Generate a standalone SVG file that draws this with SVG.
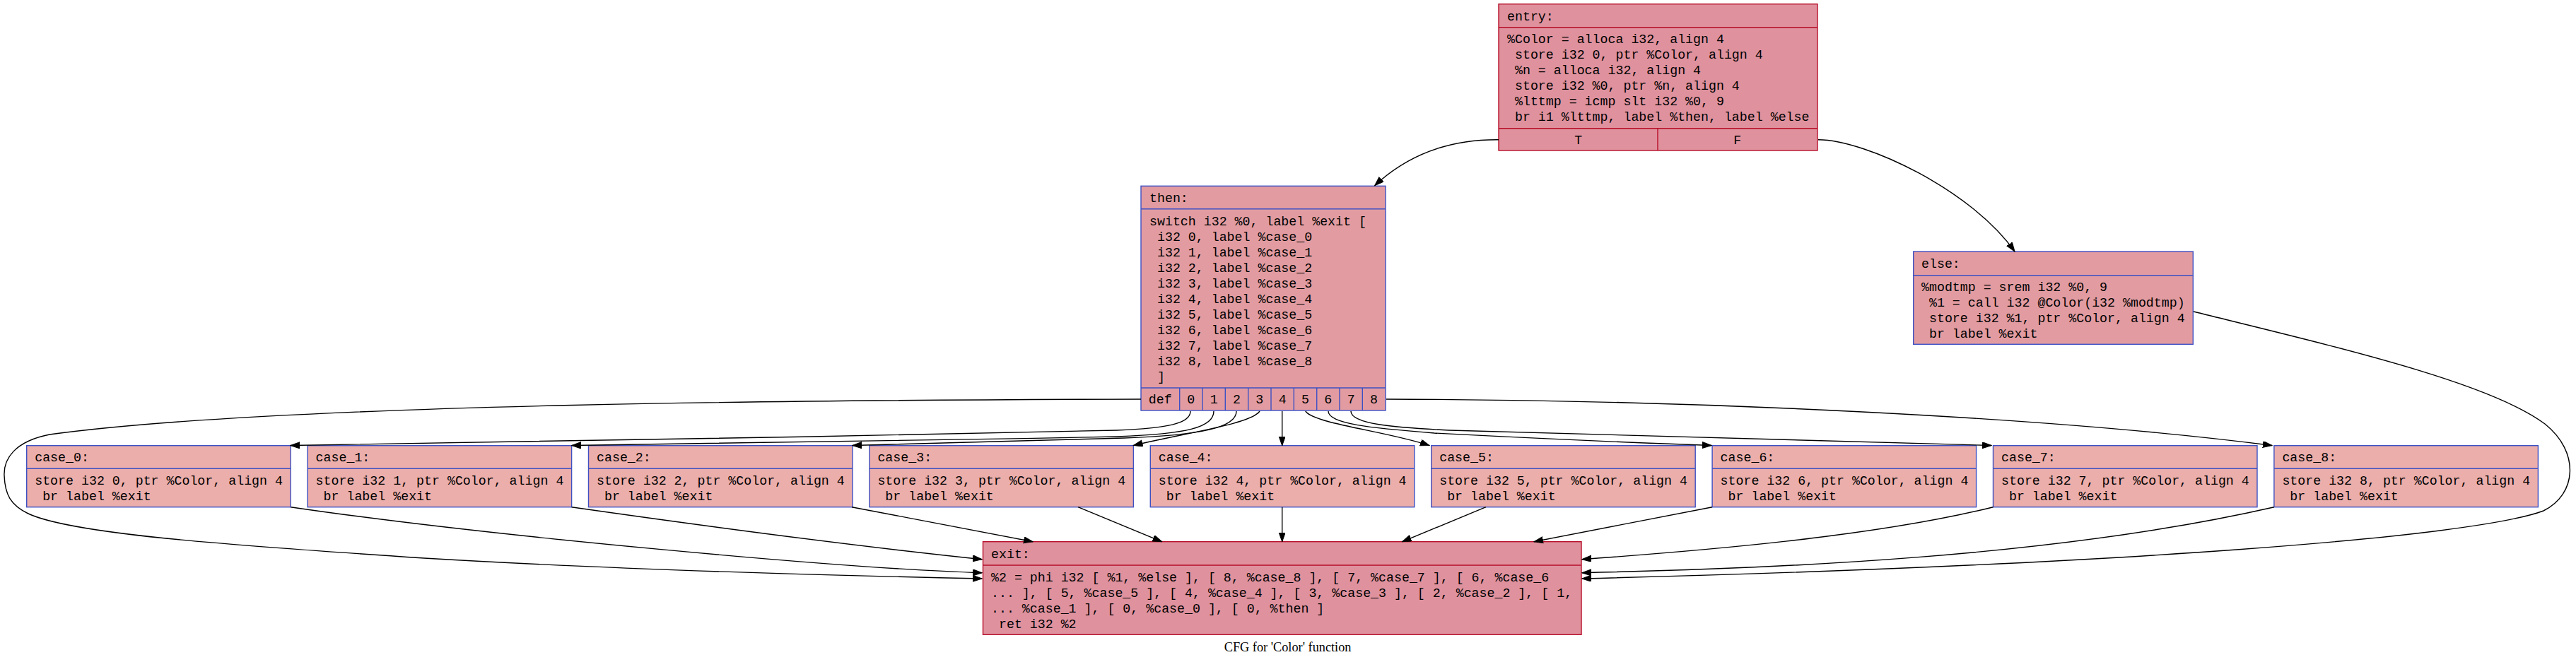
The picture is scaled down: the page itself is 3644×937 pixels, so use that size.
<svg xmlns="http://www.w3.org/2000/svg" width="3644" height="937" viewBox="0 0 3644 937">
<style>
.t{font-family:"Liberation Mono","Courier New",monospace;font-size:18.28px;fill:#000;white-space:pre}
.c{text-anchor:middle}
.hot{fill:#df929e;stroke:#b70d28;stroke-width:1.4}
.mid{fill:#e29ca1;stroke:#3d50c3;stroke-width:1.4}
.cold{fill:#ebaeab;stroke:#3d50c3;stroke-width:1.4}
.lh{stroke:#b70d28;stroke-width:1.4}
.lc{stroke:#3d50c3;stroke-width:1.4}
.e{fill:none;stroke:#000;stroke-width:1.4;marker-end:url(#ah)}
.cap{font-family:"Liberation Serif","Times New Roman",serif;font-size:18.3px;text-anchor:middle}
</style>
<defs>
<marker id="ah" markerUnits="userSpaceOnUse" markerWidth="14" markerHeight="10" refX="13" refY="4.6" orient="auto">
<path d="M0,0 L13,4.6 L0,9.2 z" fill="#000" stroke="#000" stroke-width="1"/>
</marker>
</defs>
<rect width="3644" height="937" fill="#fff"/>

<g id="entry">
<rect class="hot" x="2120" y="5.7" width="451" height="207.3"/>
<line class="lh" x1="2120" y1="38.7" x2="2571" y2="38.7"/>
<line class="lh" x1="2120" y1="181.7" x2="2571" y2="181.7"/>
<line class="lh" x1="2345" y1="181.7" x2="2345" y2="213"/>
<text class="t" x="2132" y="29">entry:</text>
<text class="t" x="2132" y="60.7">%Color = alloca i32, align 4</text>
<text class="t" x="2132" y="82.7"> store i32 0, ptr %Color, align 4</text>
<text class="t" x="2132" y="104.7"> %n = alloca i32, align 4</text>
<text class="t" x="2132" y="126.7"> store i32 %0, ptr %n, align 4</text>
<text class="t" x="2132" y="148.7"> %lttmp = icmp slt i32 %0, 9</text>
<text class="t" x="2132" y="170.7"> br i1 %lttmp, label %then, label %else</text>
<text class="t c" x="2232.7" y="204">T</text>
<text class="t c" x="2457.7" y="204">F</text>
</g>

<g id="then">
<rect class="mid" x="1614" y="263.3" width="346" height="317.7"/>
<line class="lc" x1="1614" y1="295.7" x2="1960" y2="295.7"/>
<line class="lc" x1="1614" y1="549" x2="1960" y2="549"/>
<line class="lc" x1="1668.7" y1="549" x2="1668.7" y2="581"/>
<line class="lc" x1="1701" y1="549" x2="1701" y2="581"/>
<line class="lc" x1="1733.3" y1="549" x2="1733.3" y2="581"/>
<line class="lc" x1="1765.7" y1="549" x2="1765.7" y2="581"/>
<line class="lc" x1="1798" y1="549" x2="1798" y2="581"/>
<line class="lc" x1="1830.3" y1="549" x2="1830.3" y2="581"/>
<line class="lc" x1="1862.7" y1="549" x2="1862.7" y2="581"/>
<line class="lc" x1="1895" y1="549" x2="1895" y2="581"/>
<line class="lc" x1="1927.3" y1="549" x2="1927.3" y2="581"/>
<text class="t" x="1626" y="286">then:</text>
<text class="t" x="1626" y="319">switch i32 %0, label %exit [</text>
<text class="t" x="1626" y="341"> i32 0, label %case_0</text>
<text class="t" x="1626" y="363"> i32 1, label %case_1</text>
<text class="t" x="1626" y="385"> i32 2, label %case_2</text>
<text class="t" x="1626" y="407"> i32 3, label %case_3</text>
<text class="t" x="1626" y="429"> i32 4, label %case_4</text>
<text class="t" x="1626" y="451"> i32 5, label %case_5</text>
<text class="t" x="1626" y="473"> i32 6, label %case_6</text>
<text class="t" x="1626" y="495"> i32 7, label %case_7</text>
<text class="t" x="1626" y="517"> i32 8, label %case_8</text>
<text class="t" x="1626" y="539"> ]</text>
<text class="t c" x="1641.3" y="570.7">def</text>
<text class="t c" x="1684.8" y="570.7">0</text>
<text class="t c" x="1717.2" y="570.7">1</text>
<text class="t c" x="1749.5" y="570.7">2</text>
<text class="t c" x="1781.8" y="570.7">3</text>
<text class="t c" x="1814.2" y="570.7">4</text>
<text class="t c" x="1846.5" y="570.7">5</text>
<text class="t c" x="1878.8" y="570.7">6</text>
<text class="t c" x="1911.2" y="570.7">7</text>
<text class="t c" x="1943.6" y="570.7">8</text>
</g>

<g id="else">
<rect class="mid" x="2706.7" y="356" width="395.6" height="131.3"/>
<line class="lc" x1="2706.7" y1="389.7" x2="3102.3" y2="389.7"/>
<text class="t" x="2718" y="379">else:</text>
<text class="t" x="2718" y="412.3">%modtmp = srem i32 %0, 9</text>
<text class="t" x="2718" y="434.3"> %1 = call i32 @Color(i32 %modtmp)</text>
<text class="t" x="2718" y="456.3"> store i32 %1, ptr %Color, align 4</text>
<text class="t" x="2718" y="478.3"> br label %exit</text>
</g>

<g id="case_0">
<rect class="cold" x="37.7" y="630.7" width="373.5" height="87"/>
<line class="lc" x1="37.7" y1="663.3" x2="411.2" y2="663.3"/>
<text class="t" x="49.2" y="652.5">case_0:</text>
<text class="t" x="49.2" y="685.5">store i32 0, ptr %Color, align 4</text>
<text class="t" x="49.2" y="707.5"> br label %exit</text>
</g>
<g id="case_1">
<rect class="cold" x="435.1" y="630.7" width="373.5" height="87"/>
<line class="lc" x1="435.1" y1="663.3" x2="808.6" y2="663.3"/>
<text class="t" x="446.6" y="652.5">case_1:</text>
<text class="t" x="446.6" y="685.5">store i32 1, ptr %Color, align 4</text>
<text class="t" x="446.6" y="707.5"> br label %exit</text>
</g>
<g id="case_2">
<rect class="cold" x="832.5" y="630.7" width="373.5" height="87"/>
<line class="lc" x1="832.5" y1="663.3" x2="1206" y2="663.3"/>
<text class="t" x="844" y="652.5">case_2:</text>
<text class="t" x="844" y="685.5">store i32 2, ptr %Color, align 4</text>
<text class="t" x="844" y="707.5"> br label %exit</text>
</g>
<g id="case_3">
<rect class="cold" x="1229.9" y="630.7" width="373.5" height="87"/>
<line class="lc" x1="1229.9" y1="663.3" x2="1603.4" y2="663.3"/>
<text class="t" x="1241.4" y="652.5">case_3:</text>
<text class="t" x="1241.4" y="685.5">store i32 3, ptr %Color, align 4</text>
<text class="t" x="1241.4" y="707.5"> br label %exit</text>
</g>
<g id="case_4">
<rect class="cold" x="1627.3" y="630.7" width="373.5" height="87"/>
<line class="lc" x1="1627.3" y1="663.3" x2="2000.8" y2="663.3"/>
<text class="t" x="1638.8" y="652.5">case_4:</text>
<text class="t" x="1638.8" y="685.5">store i32 4, ptr %Color, align 4</text>
<text class="t" x="1638.8" y="707.5"> br label %exit</text>
</g>
<g id="case_5">
<rect class="cold" x="2024.7" y="630.7" width="373.5" height="87"/>
<line class="lc" x1="2024.7" y1="663.3" x2="2398.2" y2="663.3"/>
<text class="t" x="2036.2" y="652.5">case_5:</text>
<text class="t" x="2036.2" y="685.5">store i32 5, ptr %Color, align 4</text>
<text class="t" x="2036.2" y="707.5"> br label %exit</text>
</g>
<g id="case_6">
<rect class="cold" x="2422.1" y="630.7" width="373.5" height="87"/>
<line class="lc" x1="2422.1" y1="663.3" x2="2795.6" y2="663.3"/>
<text class="t" x="2433.6" y="652.5">case_6:</text>
<text class="t" x="2433.6" y="685.5">store i32 6, ptr %Color, align 4</text>
<text class="t" x="2433.6" y="707.5"> br label %exit</text>
</g>
<g id="case_7">
<rect class="cold" x="2819.5" y="630.7" width="373.5" height="87"/>
<line class="lc" x1="2819.5" y1="663.3" x2="3193" y2="663.3"/>
<text class="t" x="2831" y="652.5">case_7:</text>
<text class="t" x="2831" y="685.5">store i32 7, ptr %Color, align 4</text>
<text class="t" x="2831" y="707.5"> br label %exit</text>
</g>
<g id="case_8">
<rect class="cold" x="3216.9" y="630.7" width="373.5" height="87"/>
<line class="lc" x1="3216.9" y1="663.3" x2="3590.4" y2="663.3"/>
<text class="t" x="3228.4" y="652.5">case_8:</text>
<text class="t" x="3228.4" y="685.5">store i32 8, ptr %Color, align 4</text>
<text class="t" x="3228.4" y="707.5"> br label %exit</text>
</g>

<g id="exit">
<rect class="hot" x="1390.5" y="766.7" width="846.5" height="131.6"/>
<line class="lh" x1="1390.5" y1="800" x2="2237" y2="800"/>
<text class="t" x="1402" y="789.5">exit:</text>
<text class="t" x="1402" y="822.5">%2 = phi i32 [ %1, %else ], [ 8, %case_8 ], [ 7, %case_7 ], [ 6, %case_6</text>
<text class="t" x="1402" y="844.5">... ], [ 5, %case_5 ], [ 4, %case_4 ], [ 3, %case_3 ], [ 2, %case_2 ], [ 1,</text>
<text class="t" x="1402" y="866.5">... %case_1 ], [ 0, %case_0 ], [ 0, %then ]</text>
<text class="t" x="1402" y="888.5"> ret i32 %2</text>
</g>

<g id="connectors">
<path class="e" d="M2120,197.7 C2040,197 1985,225 1944.6,262.7"/>
<path class="e" d="M2572,197.7 C2640,198 2790,270 2850,356"/>
<path class="e" d="M1614,565 C1200,566 400,570 70,615 C20,625 5,650 6,673 C7,700 15,715 40,727 C100,755 300,770 600,790 C900,808 1200,815 1389,819"/>
<path class="e" d="M1684,582 C1684,600 1650,606 1580,609 C1200,618 700,626 411,630.5"/>
<path class="e" d="M1717,582 C1717,605 1680,614 1580,618 C1300,624 1000,628 808.6,630.5"/>
<path class="e" d="M1749,582 C1749,605 1700,616 1590,620 C1450,624 1300,628 1206,630.5"/>
<path class="e" d="M1782,582 C1770,600 1680,612 1603.4,630.5"/>
<path class="e" d="M1813.7,582 L1813.7,630.7"/>
<path class="e" d="M1846.7,582 C1860,600 1960,610 2022,630.5"/>
<path class="e" d="M1879,582 C1879,600 1940,606 2029,613 C2200,622 2350,628 2421,630.5"/>
<path class="e" d="M1911,582 C1911,600 1970,605 2050,609 C2400,620 2650,627 2817,630.5"/>
<path class="e" d="M1961,565 C2400,566 2900,590 3214,630.5"/>
<path class="e" d="M3103,441 C3300,490 3520,540 3600,600 C3650,640 3645,700 3598,723 C3500,760 3000,800 2238,819"/>
<path class="e" d="M411.2,717.7 C700,760 1200,805 1389,810.7"/>
<path class="e" d="M808.6,717.7 C1000,745 1200,772 1389,791.7"/>
<path class="e" d="M1205,717.7 L1461,766.7"/>
<path class="e" d="M1525,717.7 L1643.6,766.7"/>
<path class="e" d="M1813.7,717.7 L1813.7,766.7"/>
<path class="e" d="M2102,717.7 L1983.6,766.7"/>
<path class="e" d="M2422.1,717.7 L2170,766.7"/>
<path class="e" d="M2819.5,717.7 C2650,760 2400,780 2238,791.7"/>
<path class="e" d="M3216.9,717.7 C2900,790 2500,805 2238,810.7"/>
</g>

<text class="cap" x="1821.6" y="921.7">CFG for 'Color' function</text>
</svg>
